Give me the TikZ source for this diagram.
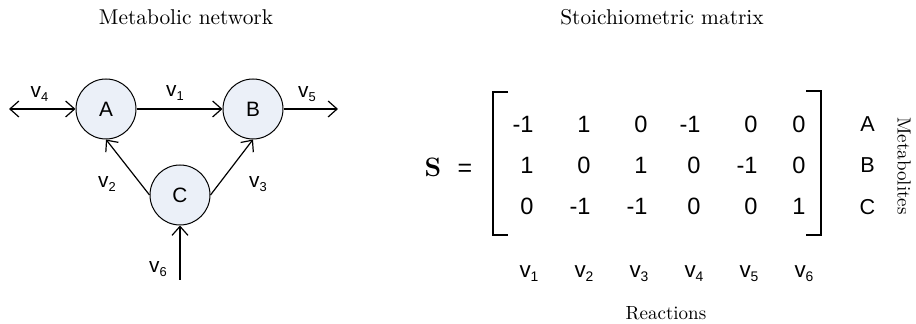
\documentclass[tikz,border=0pt]{standalone}
\usepackage{fontspec}
\newfontfamily\arial{Liberation Sans}
\usetikzlibrary{arrows.meta}
\definecolor{nodefill}{RGB}{235,240,248}
\newcommand{\vv}[1]{v\raisebox{-0.15em}{\scalebox{0.62}{#1}}}
\tikzset{
  met/.style={circle,draw,fill=nodefill,minimum size=30pt,inner sep=0pt,line width=0.5pt,font=\arial\fontsize{10.4}{12}\selectfont},
  lab/.style={inner sep=0pt,anchor=base,font=\arial\fontsize{10.4}{12}\selectfont},
  tip/.tip={Straight Barb[length=4.5pt,width=8pt]},
  flux/.style={line width=0.6pt,-tip},
  bflux/.style={line width=0.6pt,tip-tip},
  entry/.style={inner sep=0pt,anchor=base east,font=\arial\fontsize{11.8}{14}\selectfont},
  rowlab/.style={inner sep=0pt,anchor=base,font=\arial\fontsize{10.8}{13}\selectfont},
  collab/.style={inner sep=0pt,anchor=base,font=\arial\fontsize{11.2}{13}\selectfont},
  title/.style={inner sep=0pt,anchor=base,font=\fontsize{10.7}{13}\selectfont},
  axis/.style={inner sep=0pt,anchor=base,font=\fontsize{9.5}{11}\selectfont},
  bracket/.style={line width=0.6pt}
}
\begin{document}
\begin{tikzpicture}[x=0.5pt,y=-0.5pt]
\useasboundingbox (0,0) rectangle (916,324);
% titles
\node[title] (t1) at (186,25) {Metabolic network};
\node[title] (t2) at (662,25) {Stoichiometric matrix};
% network
\node[met] (A) at (106,109) {A};
\node[met] (B) at (253,109) {B};
\node[met] (C) at (180,195) {C};
\coordinate (v4end) at (9,109);
\coordinate (v5end) at (338,109);
\coordinate (v6start) at (180,280);
\draw[bflux] (v4end) -- (A.west);
\draw[flux] (A.east) -- (B.west);
\draw[flux] (B.east) -- (v5end);
\draw[flux] (C.west) -- (A.south);
\draw[flux] (C.east) -- (B.south);
\draw[flux] (v6start) -- (C.south);
\node[lab] (l4) at (39.5,98) {\vv{4}};
\node[lab] (l1) at (175,97) {\vv{1}};
\node[lab] (l5) at (307,98) {\vv{5}};
\node[lab] (l2) at (107,188) {\vv{2}};
\node[lab] (l3) at (258,188) {\vv{3}};
\node[lab] (l6) at (158,273) {\vv{6}};
% matrix
\node[inner sep=0pt,anchor=base,font=\fontsize{13.3}{16}\selectfont\bfseries] (S) at (433,176.5) {S};
\node[inner sep=0pt,anchor=base,font=\arial\fontsize{12.5}{14}\selectfont] (eq) at (465,176.5) {=};
\draw[bracket] (508,92) -- (493,92) -- (493,235) -- (508,235);
\draw[bracket] (806,91) -- (821,91) -- (821,235) -- (806,235);
% row 1
\node[entry] (m11) at (534,133) {-1};
\node[entry] (m12) at (591,133) {1};
\node[entry] (m13) at (648,133) {0};
\node[entry] (m14) at (701,133) {-1};
\node[entry] (m15) at (758,133) {0};
\node[entry] (m16) at (806,133) {0};
% row 2
\node[entry] (m21) at (534,174) {1};
\node[entry] (m22) at (591,174) {0};
\node[entry] (m23) at (648,174) {1};
\node[entry] (m24) at (701,174) {0};
\node[entry] (m25) at (758,174) {-1};
\node[entry] (m26) at (806,174) {0};
% row 3
\node[entry] (m31) at (534,215) {0};
\node[entry] (m32) at (591,215) {-1};
\node[entry] (m33) at (648,215) {-1};
\node[entry] (m34) at (701,215) {0};
\node[entry] (m35) at (758,215) {0};
\node[entry] (m36) at (806,215) {1};
% row labels
\node[rowlab] (rA) at (867.5,132) {A};
\node[rowlab] (rB) at (867.5,173) {B};
\node[rowlab] (rC) at (867.5,215) {C};
\node[axis,rotate=-90] (met) at (897.5,166) {Metabolites};
% column labels
\node[collab] (c1) at (529,278) {\vv{1}};
\node[collab] (c2) at (584,278) {\vv{2}};
\node[collab] (c3) at (639,278) {\vv{3}};
\node[collab] (c4) at (694,278) {\vv{4}};
\node[collab] (c5) at (749,278) {\vv{5}};
\node[collab] (c6) at (804,278) {\vv{6}};
\node[axis] (rx) at (666,320) {Reactions};
\end{tikzpicture}
\end{document}
